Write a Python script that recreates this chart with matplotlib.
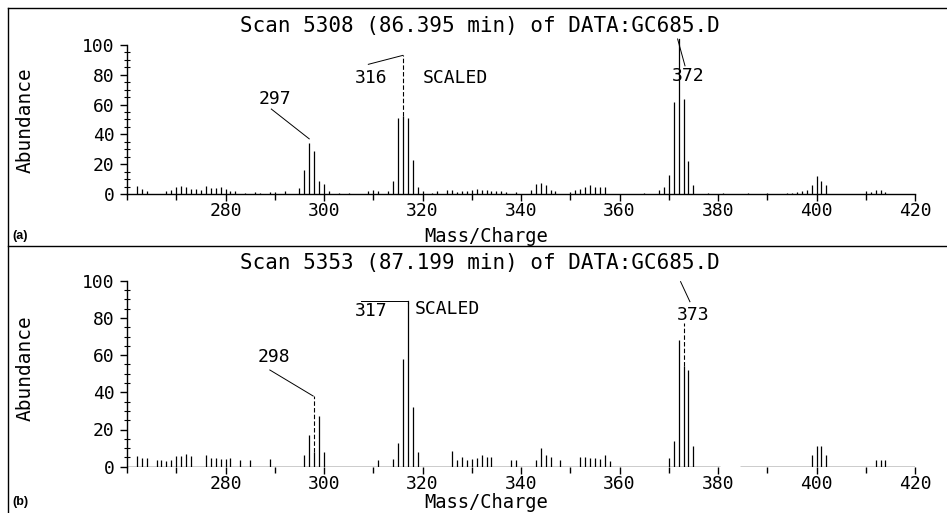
import matplotlib
matplotlib.use("Agg")
import matplotlib.pyplot as plt
from matplotlib.ticker import MultipleLocator, FixedLocator
from matplotlib.lines import Line2D

# ---- data (m/z, relative abundance %) ----
scan_a_title = "Scan 5308 (86.395 min) of DATA:GC685.D"
scan_a_mz = [262, 263, 264, 268, 269, 270, 271, 272, 273, 274, 275, 276, 277, 278, 279,
             280, 281, 282, 284, 286, 287, 289, 290, 292,
             295, 296, 297, 298, 299, 300, 301, 303, 305, 309, 310, 311,
             313, 314, 315, 316, 317, 318, 319, 320,
             322, 323, 325, 326, 327, 328, 329, 330, 331, 332, 333, 334, 335, 336, 337, 339,
             342, 343, 344, 345, 346, 347, 350, 351, 352, 353, 354, 355, 356, 357,
             365, 368, 369, 370, 371, 372, 373, 374, 375, 378, 381, 386, 390,
             394, 395, 396, 397, 398, 399, 400, 401, 402, 410, 411, 412, 413, 414]
scan_a_ab = [5.5, 3.5, 2, 2, 3, 5, 5.5, 4.5, 3.5, 3.5, 3, 5.5, 4, 4, 4.5,
             3.5, 2, 2, 0.7, 1.3, 1, 1.3, 1.5, 2.2,
             4, 16, 34, 29, 9, 6.5, 2, 1, 1, 2, 2.5, 2,
             2, 9, 51, 52, 51, 23, 5, 2,
             1, 2, 2.5, 3, 1.5, 2, 2, 3, 3.5, 2.5, 2.5, 2, 2, 2, 1.5, 1.5,
             2.5, 7, 7.5, 6, 2.5, 2, 1.5, 2.5, 3.5, 4.5, 6, 5, 5, 5,
             1, 3, 5, 13, 62, 100, 64, 22, 6, 0.7, 0.7, 0.7, 0.7,
             1, 1, 1.5, 2, 3, 6, 12, 9, 6, 2, 1.5, 2.5, 2.5, 1.5]

scan_b_title = "Scan 5353 (87.199 min) of DATA:GC685.D"
scan_b_mz = [262, 263, 264, 266, 267, 268, 269, 270, 271, 272, 273,
             276, 277, 278, 279, 280, 281, 283, 285, 289,
             296, 297, 298, 299, 300, 311,
             314, 315, 316, 317, 318, 319,
             326, 327, 328, 329, 330, 331, 332, 333, 334, 338, 339,
             343, 344, 345, 346, 348, 352, 353, 354, 355, 356, 357, 358,
             370, 371, 372, 373, 374, 375,
             399, 400, 401, 402, 412, 413, 414]
scan_b_ab = [6, 4.5, 4.5, 3.5, 3.5, 3, 3.5, 5.5, 6, 7, 5.5,
             6.5, 4.5, 4.5, 4, 4, 4.5, 3.5, 3.5, 4,
             6.3, 17, 8, 27, 8, 3.6,
             4, 12.5, 58, 88, 32, 8,
             8.6, 3.6, 5, 3.6, 4, 4.5, 6.3, 5.4, 5.4, 3.6, 3.6,
             3.6, 10, 6.3, 5.4, 3.6, 5.4, 5.4, 4.5, 4.5, 4, 6.3, 3,
             4.5, 14, 68, 54, 52, 11,
             6.3, 11, 11, 6.3, 3.6, 3.6, 3.6]

x_ticks = [280, 300, 320, 340, 360, 380, 400, 420]
y_ticks = [0, 20, 40, 60, 80, 100]

mono = "DejaVu Sans Mono"

fig = plt.figure(figsize=(9.47, 5.13), dpi=100)
W, H = 947, 513


def px_axes(x0, y0_top, w, h):
    # pixel box (left, bottom-in-pixels-from-top, width, height) -> figure fraction
    return [x0 / W, 1 - y0_top / H, w / W, h / H]


ax_a = fig.add_axes(px_axes(127, 194, 788, 156.5))
ax_b = fig.add_axes(px_axes(127, 466.7, 788, 195.3))

for ax, mz, ab in [(ax_a, scan_a_mz, scan_a_ab), (ax_b, scan_b_mz, scan_b_ab)]:
    ax.vlines(mz, 0, ab, color="black", lw=0.9)
    ax.set_xlim(260, 420)
    ax.set_ylim(0, 105)
    ax.patch.set_visible(False)
    for s in ["top", "right"]:
        ax.spines[s].set_visible(False)
    ax.spines["left"].set_bounds(0, 100)
    ax.spines["bottom"].set_bounds(260, 420)
    ax.spines["left"].set_linewidth(1.0)
    ax.spines["bottom"].set_linewidth(1.0)
    ax.set_xticks(x_ticks)
    ax.set_yticks(y_ticks)
    ax.xaxis.set_minor_locator(MultipleLocator(10))
    ax.yaxis.set_minor_locator(FixedLocator(range(0, 101, 5)))
    ax.tick_params(axis="x", which="major", direction="out", length=5, width=1, pad=1)
    ax.tick_params(axis="x", which="minor", direction="out", length=4, width=1)
    ax.tick_params(axis="y", which="major", direction="out", length=5, width=1, pad=4)
    ax.tick_params(axis="y", which="minor", direction="inout", length=4, width=0.8)
    for lab in ax.get_xticklabels() + ax.get_yticklabels():
        lab.set_fontfamily(mono)
        lab.set_fontsize(13)

# bottom spectrum baseline is broken between ~381 and ~385
ax_b.spines["bottom"].set_visible(False)
ax_b.hlines(0, 260, 380.5, color="black", lw=1.0)
ax_b.hlines(0, 384.5, 420, color="black", lw=1.0)

# ---- peak labels with leader lines (spectrum a) ----
ax_a.text(290, 64, "297", family=mono, fontsize=13, ha="center", va="center")
ax_a.plot([289.3, 297], [57, 37], color="black", lw=0.7, clip_on=False)
ax_a.text(309.5, 78, "316", family=mono, fontsize=13, ha="center", va="center")
ax_a.plot([309, 316], [87, 93], color="black", lw=0.7, clip_on=False)
ax_a.plot([316, 316], [52, 93], color="black", lw=0.8, ls=(0, (4, 2)), clip_on=False)
ax_a.text(374, 79, "372", family=mono, fontsize=13, ha="center", va="center")
ax_a.plot([373.3, 371.8], [86, 104], color="black", lw=0.7, clip_on=False)
ax_a.plot([372, 372], [100, 104], color="black", lw=0.9, clip_on=False)
ax_a.text(320, 78, "SCALED", family=mono, fontsize=13, ha="left", va="center")

# ---- peak labels with leader lines (spectrum b) ----
ax_b.text(289.8, 59, "298", family=mono, fontsize=13, ha="center", va="center")
ax_b.plot([289, 297.8], [52, 38], color="black", lw=0.7, clip_on=False)
ax_b.plot([298, 298], [8, 38], color="black", lw=0.8, ls=(0, (4, 2)), clip_on=False)
ax_b.text(309.5, 83.5, "317", family=mono, fontsize=13, ha="center", va="center")
ax_b.plot([307.5, 317], [89, 89], color="black", lw=0.7, clip_on=False)
ax_b.plot([317, 317], [88, 89], color="black", lw=0.9, clip_on=False)
ax_b.text(375, 81.5, "373", family=mono, fontsize=13, ha="center", va="center")
ax_b.plot([372.4, 374.3], [99.5, 88.7], color="black", lw=0.7, clip_on=False)
ax_b.plot([373, 373], [54, 77], color="black", lw=0.8, ls=(0, (4, 2)), clip_on=False)
ax_b.text(318.4, 85, "SCALED", family=mono, fontsize=13, ha="left", va="center")

# ---- titles, axis labels, panel letters ----
fig.text(480 / W, 1 - 26 / H, scan_a_title, family=mono, fontsize=15, ha="center", va="center")
fig.text(480 / W, 1 - 263 / H, scan_b_title, family=mono, fontsize=15, ha="center", va="center")
fig.text(25 / W, 1 - 120 / H, "Abundance", family=mono, fontsize=14, rotation=90,
         ha="center", va="center")
fig.text(25 / W, 1 - 368 / H, "Abundance", family=mono, fontsize=14, rotation=90,
         ha="center", va="center")
fig.text(486 / W, 1 - 236 / H, "Mass/Charge", family=mono, fontsize=13.5, ha="center", va="center")
fig.text(486 / W, 1 - 503 / H, "Mass/Charge", family=mono, fontsize=13.5, ha="center", va="center")
fig.text(12 / W, 1 - 236 / H, "(a)", family="Liberation Sans", fontsize=9, weight="bold",
         ha="left", va="center")
fig.text(12 / W, 1 - 502 / H, "(b)", family="Liberation Sans", fontsize=9, weight="bold",
         ha="left", va="center")

# ---- frame lines of the printed figure ----
fig.add_artist(Line2D([8 / W, 1], [1 - 8 / H, 1 - 8 / H], color="black", lw=1.0))
fig.add_artist(Line2D([8 / W, 8 / W], [1 - 8 / H, 0], color="black", lw=1.0))
fig.add_artist(Line2D([8 / W, 1], [1 - 246 / H, 1 - 246 / H], color="black", lw=1.0))

fig.savefig("out.png", dpi=100)
